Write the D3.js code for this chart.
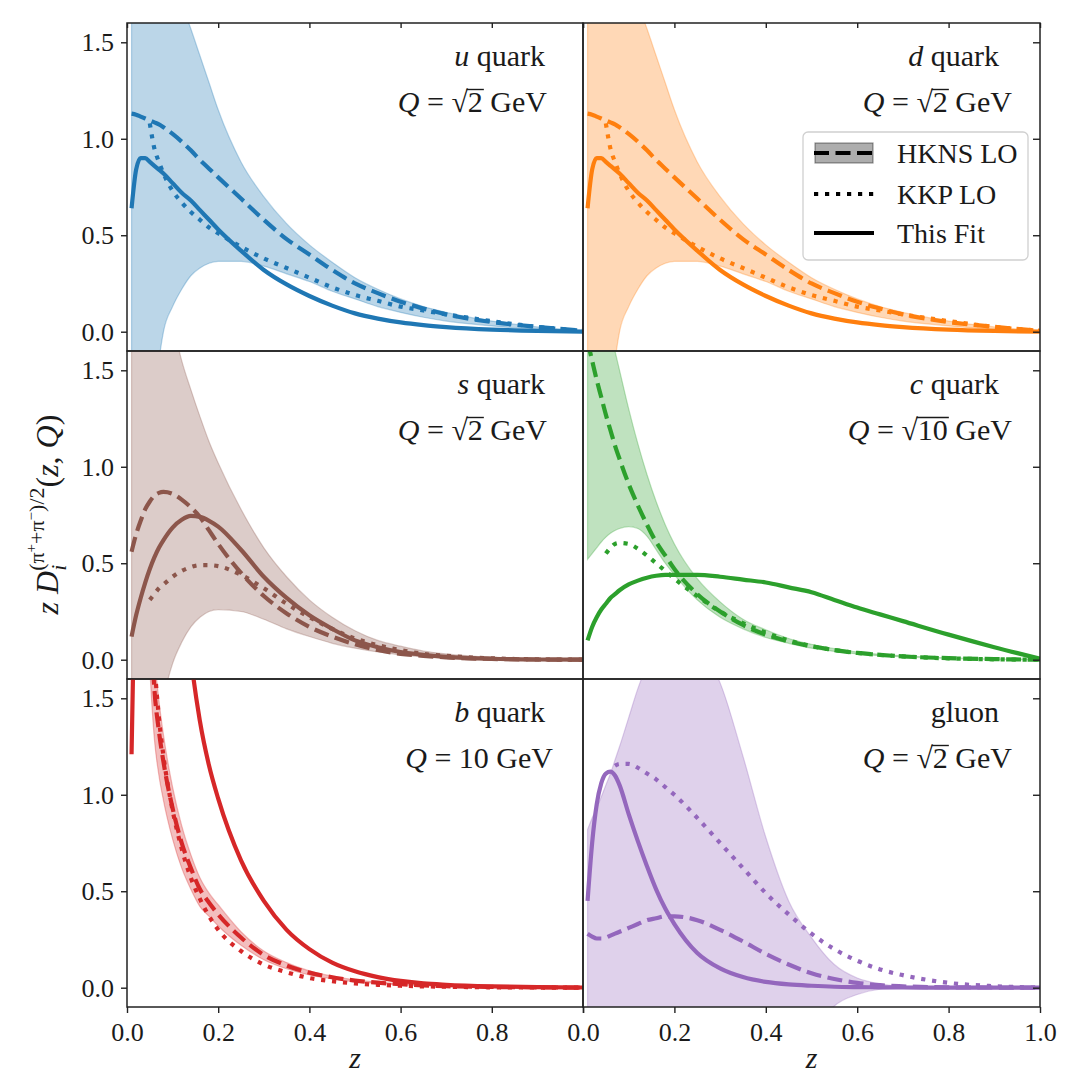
<!DOCTYPE html>
<html><head><meta charset="utf-8">
<script src="https://cdn.jsdelivr.net/npm/d3@7"></script>
<style>
body{margin:0;background:#fff}
svg{display:block}
text{font-family:"Liberation Serif","Times New Roman",serif;fill:#1a1a1a}
</style>
</head><body>
<svg id="chart" width="1076" height="1076"></svg>
<script>
// ---------------- data ----------------
const zGrid = [0.01,0.02,0.03,0.04,0.05,0.06,0.07,0.08,0.10,0.12,0.14,0.16,0.18,0.20,0.25,0.30,0.35,0.40,0.45,0.50,0.55,0.60,0.65,0.70,0.80,0.90,1.00];

// u quark
const uFit  = [0.64,0.84,0.90,0.90,0.88,0.86,0.84,0.82,0.77,0.72,0.68,0.63,0.58,0.53,0.42,0.32,0.245,0.185,0.135,0.095,0.068,0.048,0.034,0.024,0.011,0.004,0.0];
const uHKNS = [1.13,1.125,1.115,1.105,1.095,1.085,1.075,1.06,1.025,0.985,0.94,0.89,0.845,0.80,0.69,0.58,0.48,0.40,0.32,0.25,0.20,0.155,0.12,0.09,0.05,0.025,0.005];
const uKKP  = [null,null,null,null,1.08,0.95,0.88,0.82,0.73,0.67,0.62,0.58,0.54,0.51,0.44,0.38,0.33,0.28,0.23,0.19,0.16,0.13,0.11,0.09,0.055,0.025,0.005];
const uLo   = [-3,-2,-1.5,-1,-0.6,-0.35,-0.15,0.0,0.13,0.22,0.29,0.33,0.355,0.365,0.365,0.34,0.30,0.26,0.21,0.17,0.13,0.10,0.075,0.055,0.03,0.012,0.002];
const uHi   = [5,4,3.5,3,2.7,2.5,2.3,2.1,1.85,1.7,1.57,1.43,1.29,1.15,0.88,0.70,0.56,0.45,0.36,0.28,0.22,0.17,0.13,0.10,0.055,0.025,0.005];

// d quark
const dFit  = [0.64,0.84,0.90,0.90,0.88,0.86,0.84,0.82,0.77,0.72,0.68,0.63,0.58,0.53,0.42,0.32,0.245,0.185,0.135,0.095,0.068,0.048,0.034,0.024,0.011,0.004,0.0];
const dHKNS = [1.13,1.125,1.115,1.105,1.095,1.085,1.075,1.06,1.025,0.985,0.94,0.89,0.845,0.80,0.69,0.58,0.48,0.40,0.32,0.25,0.20,0.155,0.12,0.09,0.05,0.025,0.005];
const dKKP  = [null,null,null,null,1.08,0.95,0.88,0.82,0.73,0.67,0.62,0.58,0.54,0.51,0.44,0.38,0.33,0.28,0.23,0.19,0.16,0.13,0.11,0.09,0.055,0.025,0.005];
const dLo   = [-3,-2,-1.5,-1,-0.6,-0.35,-0.15,0.0,0.13,0.22,0.29,0.33,0.355,0.365,0.365,0.34,0.30,0.26,0.21,0.17,0.13,0.10,0.075,0.055,0.03,0.012,0.002];
const dHi   = [5,4,3.5,3,2.7,2.5,2.3,2.1,1.85,1.7,1.57,1.43,1.29,1.15,0.88,0.70,0.56,0.45,0.36,0.28,0.22,0.17,0.13,0.10,0.055,0.025,0.005];

// s quark
const sFit  = [0.12,0.23,0.32,0.40,0.47,0.53,0.58,0.62,0.685,0.725,0.745,0.74,0.72,0.69,0.57,0.43,0.32,0.23,0.16,0.10,0.065,0.04,0.025,0.015,0.005,0.001,0.0];
const sHKNS = [0.56,0.65,0.72,0.78,0.82,0.85,0.865,0.87,0.86,0.83,0.79,0.74,0.67,0.60,0.45,0.33,0.24,0.17,0.12,0.08,0.05,0.03,0.02,0.012,0.004,0.001,0.0];
const sKKP  = [null,null,null,null,0.31,0.34,0.37,0.39,0.43,0.46,0.48,0.49,0.49,0.485,0.44,0.37,0.29,0.22,0.16,0.11,0.075,0.05,0.03,0.02,0.007,0.002,0.0];
const sLo   = [-3,-2,-1.4,-1,-0.7,-0.5,-0.33,-0.2,-0.02,0.09,0.17,0.22,0.25,0.26,0.25,0.21,0.16,0.12,0.085,0.06,0.04,0.025,0.015,0.01,0.003,0.001,0.0];
const sHi   = [5,4,3.4,3,2.7,2.4,2.2,2.0,1.75,1.55,1.4,1.26,1.13,1.02,0.78,0.58,0.43,0.31,0.22,0.15,0.10,0.07,0.045,0.03,0.012,0.004,0.0];

// c quark
const cFit  = [0.10,0.17,0.22,0.26,0.29,0.32,0.34,0.36,0.39,0.41,0.425,0.435,0.44,0.44,0.44,0.43,0.415,0.40,0.375,0.35,0.31,0.27,0.235,0.20,0.13,0.065,0.005];
const cHKNS = [1.65,1.55,1.45,1.36,1.27,1.19,1.11,1.04,0.91,0.80,0.70,0.61,0.54,0.47,0.34,0.25,0.18,0.13,0.095,0.07,0.05,0.035,0.025,0.017,0.008,0.003,0.0];
const cKKP  = [null,null,null,null,0.55,0.58,0.60,0.605,0.60,0.575,0.54,0.50,0.46,0.42,0.33,0.25,0.19,0.14,0.10,0.07,0.05,0.035,0.025,0.017,0.007,0.002,0.0];
const cLo   = [0.52,0.55,0.58,0.61,0.635,0.655,0.67,0.68,0.69,0.68,0.64,0.57,0.50,0.44,0.31,0.22,0.16,0.115,0.085,0.06,0.043,0.03,0.021,0.015,0.007,0.002,0.0];
const cHi   = [3,2.6,2.3,2.05,1.85,1.7,1.6,1.5,1.3,1.12,0.96,0.82,0.70,0.60,0.42,0.30,0.21,0.155,0.11,0.08,0.057,0.04,0.028,0.02,0.009,0.003,0.0];

// b quark
const bFit  = [1.21,2.5,4,5,5,5,4.8,4.3,3.2,2.3,1.72,1.38,1.15,0.98,0.66,0.45,0.30,0.20,0.13,0.085,0.055,0.035,0.022,0.015,0.007,0.003,0.001];
const bHKNS = [8,5.5,3.8,2.7,2.0,1.55,1.33,1.17,0.93,0.75,0.62,0.51,0.44,0.38,0.26,0.17,0.115,0.078,0.054,0.037,0.026,0.018,0.012,0.008,0.004,0.002,0.0];
const bKKP  = [null,null,null,3,2.2,1.7,1.4,1.2,0.92,0.72,0.57,0.46,0.37,0.30,0.19,0.12,0.08,0.05,0.034,0.022,0.015,0.01,0.007,0.005,0.002,0.001,0.0];
const bLo   = [6.6,4.6,3.15,2.24,1.66,1.29,1.1,0.97,0.77,0.62,0.51,0.42,0.37,0.32,0.22,0.145,0.098,0.066,0.046,0.031,0.022,0.015,0.01,0.007,0.003,0.0015,0.0];
const bHi   = [9,6.2,4.3,3.0,2.24,1.74,1.49,1.31,1.04,0.84,0.69,0.57,0.49,0.43,0.29,0.19,0.13,0.087,0.06,0.041,0.029,0.02,0.013,0.009,0.0045,0.002,0.0];

// gluon
const gFit  = [0.45,0.75,0.95,1.06,1.11,1.12,1.10,1.05,0.90,0.76,0.63,0.51,0.41,0.33,0.18,0.10,0.055,0.03,0.017,0.01,0.005,0.003,0.002,0.001,0.0,0.0,0.0];
const gHKNS = [0.28,0.265,0.255,0.255,0.26,0.27,0.28,0.29,0.31,0.33,0.35,0.36,0.37,0.37,0.35,0.30,0.24,0.175,0.12,0.075,0.045,0.025,0.013,0.007,0.002,0.001,0.0];
const gKKP  = [null,null,null,null,null,null,1.15,1.16,1.16,1.14,1.11,1.08,1.04,1.0,0.88,0.75,0.62,0.49,0.38,0.28,0.20,0.14,0.095,0.065,0.025,0.008,0.0];
const gLo   = [-1,-1,-1,-1,-1,-1,-1,-1,-1,-1,-1,-1,-1,-1,-1,-1,-0.9,-0.75,-0.5,-0.25,-0.095,-0.035,-0.008,-0.002,0.0,0.0,0.0];
const gHi   = [0.82,0.88,0.93,0.99,1.05,1.11,1.18,1.25,1.4,1.55,1.67,1.76,1.82,1.84,1.78,1.58,1.2,0.78,0.45,0.26,0.12,0.05,0.02,0.008,0.002,0.0,0.0];

const panelKeys   = ["u","d","s","c","b","g"];
const panelTitles = ["u quark","d quark","s quark","c quark","b quark","gluon"];
const scaleLabels = ["√2","√2","√2","√10","10","√2"];
const legendLabels = ["HKNS LO","KKP LO","This Fit"];
const yTicks = [0.0,0.5,1.0,1.5];
const xTicks = [0.0,0.2,0.4,0.6,0.8,1.0];
const series = {
  u:{fit:uFit,hkns:uHKNS,kkp:uKKP,lo:uLo,hi:uHi},
  d:{fit:dFit,hkns:dHKNS,kkp:dKKP,lo:dLo,hi:dHi},
  s:{fit:sFit,hkns:sHKNS,kkp:sKKP,lo:sLo,hi:sHi},
  c:{fit:cFit,hkns:cHKNS,kkp:cKKP,lo:cLo,hi:cHi},
  b:{fit:bFit,hkns:bHKNS,kkp:bKKP,lo:bLo,hi:bHi},
  g:{fit:gFit,hkns:gHKNS,kkp:gKKP,lo:gLo,hi:gHi}
};

// ---------------- styling / layout ----------------
const colors = {u:"#1f77b4",d:"#ff7f0e",s:"#8c564b",c:"#2ca02c",b:"#d62728",g:"#9467bd"};
const colX = [127,583], colW = [456,457];
const rowY = [23,351,679], rowH = 328;
const LW = 4.2;
const DASH = "15,6.5", DOT = "4.2,6.8";
const FONT = '"Liberation Serif","Times New Roman",serif';

const svg = d3.select("#chart");
const defs = svg.append("defs");

panelKeys.forEach((key,i)=>{
  const col = i%2, row = Math.floor(i/2);
  const x0 = colX[col], w = colW[col], y0 = rowY[row];
  const x = d3.scaleLinear().domain([0,1]).range([x0,x0+w]);
  const y = d3.scaleLinear().domain([-0.1,1.6]).range([y0+rowH,y0]);
  const clipId = "clip"+key;
  defs.append("clipPath").attr("id",clipId).append("rect")
    .attr("x",x0).attr("y",y0).attr("width",w).attr("height",rowH);
  const g = svg.append("g");
  const plot = g.append("g").attr("clip-path",`url(#${clipId})`);
  const S = series[key], c = colors[key];
  const pts = arr => zGrid.map((z,j)=>[z,arr[j]]);

  // band
  const band = zGrid.map((z,j)=>({z,lo:S.lo[j],hi:S.hi[j]}));
  plot.append("path").datum(band)
    .attr("d",d3.area().x(d=>x(d.z)).y0(d=>y(d.lo)).y1(d=>y(d.hi)).curve(d3.curveMonotoneX))
    .attr("fill",c).attr("fill-opacity",0.3)
    .attr("stroke",c).attr("stroke-opacity",0.3).attr("stroke-width",1.2);

  const line = d3.line().defined(d=>d[1]!==null).x(d=>x(d[0])).y(d=>y(d[1])).curve(d3.curveMonotoneX);
  plot.append("path").datum(pts(S.hkns)).attr("d",line)
    .attr("fill","none").attr("stroke",c).attr("stroke-width",LW).attr("stroke-dasharray",DASH);
  plot.append("path").datum(pts(S.kkp)).attr("d",line)
    .attr("fill","none").attr("stroke",c).attr("stroke-width",LW).attr("stroke-dasharray",DOT);
  plot.append("path").datum(pts(S.fit)).attr("d",line)
    .attr("fill","none").attr("stroke",c).attr("stroke-width",LW);

  // axes / ticks
  const styleAxis = sel => {
    sel.attr("font-family",FONT).attr("font-size",26);
    sel.select(".domain").remove();
    sel.selectAll(".tick line").attr("stroke","#222").attr("stroke-width",1.4);
    sel.selectAll(".tick text").style("font-family",FONT).style("font-size","26px").attr("fill","#1a1a1a");
  };
  if(col===0){
    g.append("g").attr("transform",`translate(${x0},0)`)
      .call(d3.axisLeft(y).tickValues(yTicks).tickFormat(d3.format(".1f")).tickSize(6).tickPadding(7))
      .call(styleAxis);
  } else {
    g.append("g").attr("transform",`translate(${x0+w},0)`)
      .call(d3.axisLeft(y).tickValues(yTicks).tickFormat("").tickSize(7))
      .call(styleAxis);
  }
  if(row===0){
    g.append("g").attr("transform",`translate(0,${y0})`)
      .call(d3.axisBottom(x).tickValues(xTicks).tickFormat("").tickSize(5))
      .call(styleAxis);
  }
  if(row===2){
    const ax = g.append("g").attr("transform",`translate(0,${y0+rowH})`)
      .call(d3.axisBottom(x).tickValues(xTicks).tickFormat(d=> (col===0 && d===1) ? "" : d3.format(".1f")(d)).tickSize(6).tickPadding(10))
      .call(styleAxis);
    ax.selectAll(".tick text").attr("dy","0.71em");
    g.append("text").attr("x",x(0.5)).attr("y",1068).attr("text-anchor","middle")
      .style("font-size","30px").style("font-style","italic").text("z");
  }
  // frame
  g.append("rect").attr("x",x0).attr("y",y0).attr("width",w).attr("height",rowH)
    .attr("fill","none").attr("stroke","#222").attr("stroke-width",1.5);

  // panel labels
  const l1x = col===0 ? x0+418 : x0+416;
  const t1 = g.append("text").attr("x",l1x).attr("y",y0+43).attr("text-anchor","end").style("font-size","30px");
  const title = panelTitles[i];
  if(title.indexOf(" ")>0){
    t1.append("tspan").style("font-style","italic").text(title.split(" ")[0]);
    t1.append("tspan").text(" "+title.split(" ").slice(1).join(" "));
  } else t1.text(title);

  const l2x = col===0 ? (key==="b"? x0+426 : x0+420) : x0+429;
  const t2 = g.append("text").attr("x",l2x).attr("y",y0+89).attr("text-anchor","end").style("font-size","30px");
  t2.append("tspan").style("font-style","italic").text("Q");
  const eq = " = ";
  t2.append("tspan").text(eq);
  const lab = scaleLabels[i];
  let sqrtIdx=-1, radEnd=-1;
  const pre = 1 + eq.length;
  if(lab[0]==="√"){
    t2.append("tspan").text("√");
    t2.append("tspan").text(lab.slice(1));
    sqrtIdx = pre; radEnd = pre+lab.length-1;
  } else {
    t2.append("tspan").text(lab);
  }
  t2.append("tspan").text(" GeV");
  if(sqrtIdx>=0){
    const node = t2.node();
    const e0 = node.getExtentOfChar(sqrtIdx), e1 = node.getExtentOfChar(radEnd);
    const base = y0+89;
    g.append("line").attr("x1",e0.x+e0.width-1.2).attr("x2",e1.x+e1.width+1)
      .attr("y1",base-22.5).attr("y2",base-22.5).attr("stroke","#1a1a1a").attr("stroke-width",1.4);
  }
});

// legend
const lg = svg.append("g");
lg.append("rect").attr("x",803).attr("y",132).attr("width",225).attr("height",128).attr("rx",5)
  .attr("fill","#fff").attr("fill-opacity",0.85).attr("stroke","#d0d0d0").attr("stroke-width",1.3);
const hx0=814, hx1=874;
lg.append("rect").attr("x",815).attr("y",143).attr("width",58).attr("height",20)
  .attr("fill","#000").attr("fill-opacity",0.32).attr("stroke","#000").attr("stroke-opacity",0.4).attr("stroke-width",1.2);
const legY = [153,194,233];
const legDash = [DASH,DOT,null];
legendLabels.forEach((t,k)=>{
  const ln = lg.append("line").attr("x1",hx0).attr("x2",hx1).attr("y1",legY[k]).attr("y2",legY[k])
    .attr("stroke","#000").attr("stroke-width",LW);
  if(legDash[k]) ln.attr("stroke-dasharray",legDash[k]);
  lg.append("text").attr("x",897).attr("y",legY[k]+10).style("font-size","28px").text(t);
});

// y label (rotated)
const yl = svg.append("g");
const yt = yl.append("text").style("font-size","32px");
yt.append("tspan").style("font-style","italic").text("z");
yt.append("tspan").text(" ");
yt.append("tspan").style("font-style","italic").text("D");
const sub = yt.append("tspan").style("font-style","italic").style("font-size","22px").attr("dy",8).text("i");
const subW = sub.node().getComputedTextLength();
yt.append("tspan").style("font-size","22px").attr("dx",-subW).attr("dy",-22).text("(π");
yt.append("tspan").style("font-size","15px").attr("dy",-8).text("+");
yt.append("tspan").style("font-size","22px").attr("dy",8).text("+π");
yt.append("tspan").style("font-size","15px").attr("dy",-8).text("−");
yt.append("tspan").style("font-size","22px").attr("dy",8).text(")/2");
const tail = yt.append("tspan").attr("dy",14);
tail.append("tspan").text("(");
tail.append("tspan").style("font-style","italic").text("z");
tail.append("tspan").text(", ");
tail.append("tspan").style("font-style","italic").text("Q");
tail.append("tspan").text(")");
const bb = yt.node().getBBox();
yt.attr("x",-bb.width/2 - bb.x);
yl.attr("transform","translate(58,515) rotate(-90)");
</script>
</body></html>
